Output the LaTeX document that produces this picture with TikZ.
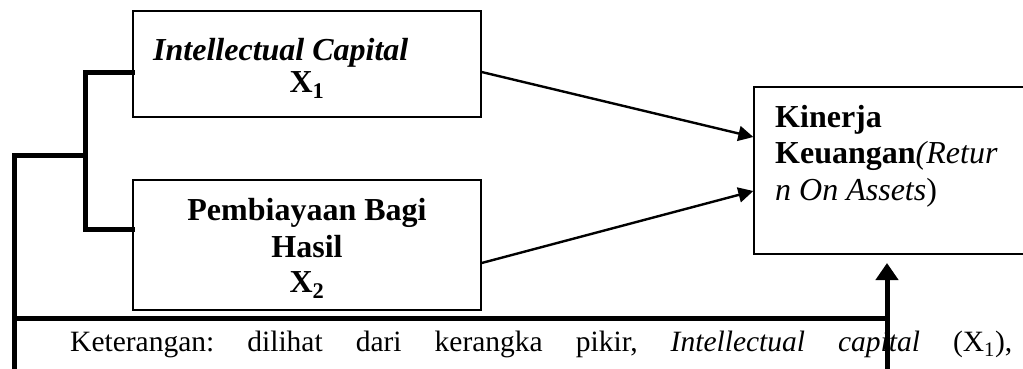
\documentclass[tikz,border=0pt]{standalone}
\usepackage{fontspec}
\setmainfont{Liberation Serif}
\usetikzlibrary{arrows.meta}
\frenchspacing
\tikzset{
  boxstyle/.style={draw=black,line width=1.3pt,inner sep=0pt},
  lbl/.style={inner sep=0pt,font=\fontsize{32}{37}\selectfont},
  body/.style={inner sep=0pt,font=\fontsize{29.5}{34}\selectfont},
  thickline/.style={line width=5pt,line join=miter,line cap=rect},
  flow/.style={line width=2.4pt,-{Triangle[length=15pt,width=15pt]}},
  upflow/.style={line width=5pt,-{Triangle[length=17pt,width=22pt]}}
}
\begin{document}
\begin{tikzpicture}[x=1pt,y=-1pt]
\useasboundingbox (0,0) rectangle (1023,368);
\clip (0,0) rectangle (1023,368);
% boxes
\node[boxstyle,minimum width=348pt,minimum height=106pt] (b1) at (307,64) {};
\node[boxstyle,minimum width=348pt,minimum height=130pt] (b2) at (307,245) {};
\node[boxstyle,minimum width=300pt,minimum height=167pt] (b3) at (904,170.5) {};
% box texts
\node[lbl,anchor=base west] (t1a) at (153,60) {\bfseries\itshape Intellectual Capital};
\node[lbl,anchor=base] (t1b) at (307,92) {\bfseries X\textsubscript{1}};
\node[lbl,anchor=base] (t2a) at (307,220) {\bfseries Pembiayaan Bagi};
\node[lbl,anchor=base] (t2b) at (307,257) {\bfseries Hasil};
\node[lbl,anchor=base] (t2c) at (307,292) {\bfseries X\textsubscript{2}};
\node[lbl,anchor=base west] (t3a) at (775,127) {\bfseries Kinerja};
\node[lbl,anchor=base west] (t3b) at (775,163) {\bfseries Keuangan\mdseries\itshape(Retur};
\node[lbl,anchor=base west] (t3c) at (775,200) {\itshape n On Assets\upshape)};
% body text
\node[body,anchor=base west] (note) at (70,351) {\makebox[942pt][s]{Keterangan: dilihat dari kerangka pikir, \textit{Intellectual capital} (X\textsubscript{1}),}};
% coordinates
\coordinate (jt) at (85,72);
\coordinate (jb) at (85,229);
\coordinate (jm) at (85,155);
\coordinate (lm) at (14,155);
\coordinate (lb) at (14,372);
\coordinate (lh) at (14,318);
\coordinate (rh) at (887,318);
\coordinate (rb) at (887,372);
\coordinate (rt) at (887,263);
% bracket connectors
\draw[thickline] ([yshift=-8pt]b1.west) -- (jt) -- (jb) -- ([yshift=16pt]b2.west);
\draw[thickline] (jm) -- (lm) -- (lb);
\draw[thickline] (lh) -- (rh);
% arrows
\draw[flow] ([yshift=-8pt]b1.east) -- ([yshift=33.5pt]b3.west);
\draw[flow] ([yshift=-18pt]b2.east) -- ([yshift=-20.5pt]b3.west);
\draw[upflow] (rb) -- (rt);
\end{tikzpicture}
\end{document}
